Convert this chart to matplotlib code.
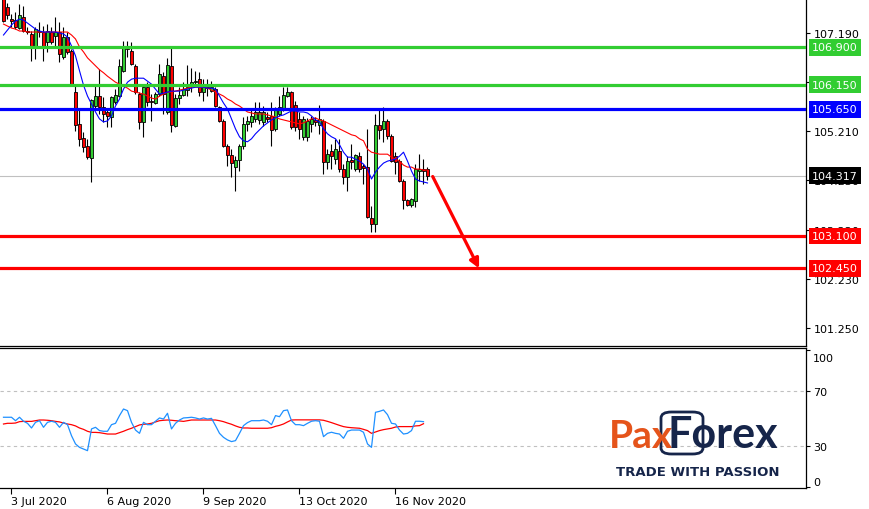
import matplotlib
matplotlib.use('Agg')
import matplotlib.pyplot as plt
from matplotlib.patches import Rectangle, FancyBboxPatch
from matplotlib.transforms import blended_transform_factory, ScaledTranslation

plt.rcParams['font.family'] = ['DejaVu Sans']

# ---------------- data ----------------
opens = [107.88, 107.71, 107.47, 107.45, 107.29, 107.51, 107.23, 107.17, 106.91, 107.21,
         107.21, 107.01, 107.21, 107.13, 107.21, 106.71, 107.11, 106.83, 106.00, 105.36,
         105.08, 104.92, 104.67, 105.72, 105.92, 105.70, 105.60, 105.50, 105.80, 105.92,
         106.43, 106.91, 106.83, 106.53, 105.96, 105.40, 106.10, 105.82, 105.78, 105.96,
         106.32, 105.60, 106.53, 105.32, 105.88, 105.94, 106.04, 106.16, 106.20, 106.26,
         106.00, 106.10, 106.02, 106.06, 105.70, 105.42, 104.92, 104.73, 104.49, 104.63,
         104.92, 105.36, 105.40, 105.46, 105.44, 105.40, 105.50, 105.52, 105.26, 105.56,
         105.66, 105.92, 106.00, 105.74, 105.46, 105.10, 105.10, 105.36, 105.44, 105.34,
         105.42, 104.59, 104.81, 104.65, 104.81, 104.45, 104.29, 104.63, 104.45, 104.71,
         104.51, 104.49, 103.47, 103.34, 105.34, 105.26, 105.42, 105.12, 104.71, 104.61,
         104.21, 103.83, 103.73, 103.81, 104.41, 104.45, 104.45]
highs = [107.98, 107.79, 107.57, 107.61, 107.77, 107.73, 107.31, 107.23, 107.31, 107.41,
         107.33, 107.37, 107.31, 107.51, 107.41, 107.31, 107.21, 106.87, 106.12, 105.66,
         105.20, 105.06, 105.86, 106.12, 106.47, 105.90, 105.66, 105.92, 106.06, 106.67,
         107.03, 107.03, 107.01, 106.57, 106.00, 106.12, 106.20, 105.96, 106.00, 106.57,
         106.41, 106.69, 106.93, 105.96, 106.10, 106.20, 106.55, 106.49, 106.43, 106.41,
         106.26, 106.26, 106.22, 106.10, 105.72, 105.46, 104.96, 104.85, 104.71, 104.96,
         105.50, 105.52, 105.68, 105.80, 105.80, 105.72, 105.60, 105.80, 105.70, 105.92,
         106.10, 106.10, 106.02, 105.82, 105.60, 105.52, 105.48, 105.52, 105.50, 105.74,
         105.46, 104.85, 104.96, 105.06, 105.06, 104.55, 104.71, 104.96, 104.75, 104.79,
         104.55, 105.26, 103.71, 105.56, 105.66, 105.70, 105.46, 105.16, 104.79, 104.65,
         104.25, 103.85, 103.87, 104.55, 104.75, 104.65, 104.49]
lows = [107.41, 107.47, 107.31, 107.27, 107.27, 107.21, 107.17, 106.63, 106.67, 107.11,
        106.63, 106.81, 106.97, 106.93, 106.61, 106.67, 106.77, 106.12, 105.22, 104.92,
        104.79, 104.65, 104.19, 105.66, 105.56, 105.40, 105.30, 105.30, 105.76, 105.90,
        106.41, 106.71, 106.55, 105.96, 105.26, 105.10, 105.72, 105.42, 105.76, 105.92,
        105.56, 105.56, 105.20, 105.30, 105.76, 105.92, 105.92, 106.00, 106.12, 105.92,
        105.82, 105.92, 106.00, 105.70, 105.40, 104.90, 104.51, 104.29, 104.01, 104.41,
        104.85, 105.22, 105.30, 105.40, 105.36, 105.32, 105.40, 104.92, 105.22, 105.52,
        105.62, 105.90, 105.26, 105.22, 105.06, 105.04, 105.02, 105.20, 105.32, 105.16,
        104.35, 104.45, 104.45, 104.55, 104.39, 104.15, 104.01, 104.45, 104.41, 104.39,
        104.15, 103.47, 103.18, 103.18, 105.06, 105.00, 105.06, 104.59, 104.35, 104.19,
        103.65, 103.71, 103.69, 103.69, 104.21, 104.15, 104.23]
closes = [107.43, 107.55, 107.44, 107.31, 107.55, 107.23, 107.21, 106.91, 107.27, 107.23,
          106.91, 107.23, 107.01, 107.21, 106.77, 107.11, 106.81, 106.16, 105.34, 105.06,
          104.90, 104.69, 105.84, 105.92, 105.70, 105.56, 105.52, 105.90, 105.94, 106.53,
          106.91, 106.87, 106.57, 106.00, 105.40, 106.10, 105.80, 105.80, 105.96, 106.36,
          105.96, 106.55, 105.34, 105.88, 105.94, 106.06, 106.10, 106.20, 106.22, 106.00,
          106.10, 106.08, 106.10, 105.72, 105.42, 104.92, 104.73, 104.57, 104.63, 104.92,
          105.36, 105.42, 105.52, 105.60, 105.60, 105.60, 105.46, 105.24, 105.66, 105.70,
          105.94, 106.00, 105.30, 105.30, 105.26, 105.46, 105.42, 105.46, 105.40, 105.46,
          104.59, 104.75, 104.71, 104.85, 104.45, 104.29, 104.61, 104.59, 104.73, 104.45,
          104.47, 103.49, 103.34, 105.34, 105.24, 105.42, 105.12, 104.61, 104.59, 104.21,
          103.83, 103.73, 103.85, 104.45, 104.45, 104.41, 104.32]

ma_fast = [107.15, 107.25, 107.35, 107.43, 107.47, 107.45, 107.39, 107.33, 107.27, 107.23,
           107.21, 107.21, 107.21, 107.21, 107.19, 107.17, 107.11, 106.93, 106.73, 106.43,
           106.14, 105.92, 105.76, 105.60, 105.46, 105.40, 105.42, 105.52, 105.72, 105.86,
           106.06, 106.20, 106.26, 106.28, 106.28, 106.28, 106.22, 106.16, 106.06, 105.96,
           105.98, 106.00, 106.02, 106.02, 106.02, 106.04, 106.06, 106.08, 106.10, 106.10,
           106.10, 106.08, 106.08, 106.06, 105.92, 105.78, 105.66, 105.46, 105.26, 105.10,
           105.02, 105.00, 105.06, 105.16, 105.24, 105.32, 105.38, 105.44, 105.48, 105.52,
           105.54, 105.58, 105.62, 105.62, 105.60, 105.60, 105.58, 105.52, 105.44, 105.40,
           105.26, 105.16, 105.10, 105.06, 104.94, 104.79, 104.69, 104.69, 104.65, 104.61,
           104.55, 104.45, 104.25, 104.39, 104.49, 104.57, 104.61, 104.63, 104.65, 104.71,
           104.79, 104.61, 104.41, 104.25, 104.21, 104.19, 104.17]
ma_slow = [107.37, 107.33, 107.29, 107.27, 107.23, 107.23, 107.21, 107.21, 107.21, 107.21,
           107.21, 107.21, 107.21, 107.21, 107.21, 107.21, 107.21, 107.15, 107.07, 106.91,
           106.81, 106.69, 106.61, 106.53, 106.45, 106.39, 106.32, 106.26, 106.20, 106.16,
           106.12, 106.08, 106.02, 106.00, 105.98, 105.96, 105.92, 105.88, 105.86, 105.92,
           105.96, 106.00, 106.00, 106.02, 106.04, 106.06, 106.08, 106.10, 106.10, 106.10,
           106.10, 106.08, 106.04, 106.00, 105.96, 105.92, 105.86, 105.82, 105.76, 105.72,
           105.66, 105.60, 105.58, 105.56, 105.56, 105.56, 105.54, 105.52, 105.50, 105.46,
           105.44, 105.42, 105.40, 105.38, 105.36, 105.38, 105.42, 105.46, 105.48, 105.44,
           105.42, 105.38, 105.34, 105.30, 105.26, 105.22, 105.18, 105.14, 105.12, 105.06,
           105.02, 104.85, 104.79, 104.77, 104.75, 104.75, 104.75, 104.69, 104.65, 104.61,
           104.53, 104.49, 104.49, 104.45, 104.45, 104.43, 104.43]

osc = [50.9, 50.9, 50.9, 48.4, 50.9, 48.0, 46.5, 43.1, 47.2, 48.4,
       43.6, 47.2, 48.0, 47.2, 43.6, 47.2, 45.5, 37.5, 31.5, 29.0,
       27.8, 26.6, 42.4, 43.6, 41.2, 40.7, 40.7, 45.5, 46.5, 52.1,
       56.9, 55.7, 47.2, 41.6, 39.2, 47.2, 45.5, 45.5, 48.0, 50.4,
       49.6, 53.8, 42.4, 46.5, 48.9, 50.4, 50.6, 50.9, 50.4, 49.6,
       50.4, 49.6, 50.1, 44.8, 39.2, 36.3, 34.4, 33.2, 33.9, 39.2,
       44.8, 47.0, 48.4, 48.4, 48.4, 48.9, 48.0, 45.5, 52.1, 51.3,
       55.7, 56.2, 48.4, 45.5, 45.5, 44.8, 46.5, 48.0, 48.4, 48.0,
       36.8, 39.2, 40.0, 39.2, 38.7, 35.6, 40.7, 41.6, 41.6, 41.6,
       40.0, 31.5, 29.0, 54.5, 55.2, 56.2, 52.8, 46.5, 46.0, 41.6,
       38.7, 39.2, 41.2, 48.0, 48.0, 47.7]
osc_ma = [46.0, 46.5, 46.5, 46.7, 47.7, 47.9, 47.9, 47.9, 48.4, 48.9,
          48.9, 48.7, 48.4, 47.9, 47.5, 46.7, 46.0, 45.5, 44.6, 43.1,
          42.1, 40.7, 39.9, 39.9, 39.7, 39.2, 38.7, 38.7, 38.7, 39.7,
          40.7, 41.9, 42.9, 44.1, 45.3, 45.8, 46.0, 46.5, 47.5, 48.4,
          48.7, 48.9, 48.7, 48.4, 48.2, 47.9, 48.4, 48.9, 48.9, 48.9,
          48.9, 48.9, 48.9, 48.9, 48.4, 47.7, 46.7, 45.8, 44.6, 43.6,
          43.1, 43.1, 42.9, 42.9, 42.9, 42.9, 42.9, 43.3, 44.3, 45.0,
          46.0, 47.5, 48.9, 49.0, 49.0, 49.0, 49.0, 49.0, 49.0, 49.0,
          48.7, 47.9, 47.0, 46.0, 45.0, 44.1, 43.6, 43.3, 43.1, 42.9,
          42.1, 41.2, 39.2, 40.2, 41.2, 41.9, 42.4, 42.9, 43.8, 44.1,
          44.1, 44.1, 44.1, 44.6, 44.8, 46.2]

date_labels = ['3 Jul 2020', '6 Aug 2020', '9 Sep 2020', '13 Oct 2020', '16 Nov 2020']
date_pos = [2, 26, 50, 74, 98]
price_ticks = [107.190, 106.210, 105.210, 104.230, 103.220, 102.230, 101.250]
levels = [106.900, 106.150, 105.650, 103.100, 102.450]
level_colors = ['#32CD32', '#32CD32', '#0000FF', '#FF0000', '#FF0000']
current_price = 104.317
arrow_start = (107.3, 104.30)
arrow_end = (118.9, 102.45)
osc_ticks = [0, 30, 70, 100]
osc_levels = [30, 70]

# ---------------- figure ----------------
W, H = 870, 510
fig = plt.figure(figsize=(W / 100, H / 100), dpi=100)
fig.patch.set_facecolor('white')

def frac(x0, y0, x1, y1):
    return [x0 / W, 1 - y1 / H, (x1 - x0) / W, (y1 - y0) / H]

ax = fig.add_axes(frac(0, 0, 806, 346.7))
ax2 = fig.add_axes(frac(0, 349.3, 806, 489))

xlim = (-0.875, 200.625)
for a in (ax, ax2):
    a.set_xlim(*xlim)
    a.set_facecolor('white')
    a.spines['left'].set_visible(False)
    for s in ('right', 'bottom', 'top'):
        a.spines[s].set_color('black')
        a.spines[s].set_linewidth(0.9)
ax.spines['top'].set_visible(False)

ax.set_ylim(100.893, 107.875)
ax2.set_ylim(-0.55, 101.05)

# current price line
ax.axhline(current_price, color='#C0C0C0', lw=0.8, zorder=1)

# candles
for i, (o, h, l, c) in enumerate(zip(opens, highs, lows, closes)):
    ax.plot([i, i], [l, h], color='black', lw=0.8, zorder=3, solid_capstyle='butt')
    bottom = min(o, c)
    height = max(abs(c - o), 0.012)
    fc = '#32CD32' if c >= o else '#FF0000'
    ax.add_patch(Rectangle((i - 0.38, bottom), 0.76, height, facecolor=fc,
                           edgecolor='black', lw=0.6, zorder=4))

xs = list(range(len(ma_fast)))
ax.plot(xs, ma_slow, color='#FF0000', lw=0.8, zorder=5)
ax.plot(xs, ma_fast, color='#0000FF', lw=0.8, zorder=5)

# horizontal levels
tr = blended_transform_factory(ax.transAxes, ax.transData)
lab_x = 812 / 806
for lv, col in zip(levels, level_colors):
    ax.axhline(lv, color=col, lw=2.3, zorder=6)
    ax.text(lab_x, lv, f'{lv:.3f}', transform=tr, color='white', fontsize=8,
            va='center', ha='left', clip_on=False, zorder=10,
            bbox=dict(boxstyle='square,pad=0.3', fc=col, ec='none'))
ax.text(lab_x, current_price, f'{current_price:.3f}', transform=tr, color='white',
        fontsize=8, va='center', ha='left', clip_on=False, zorder=10,
        bbox=dict(boxstyle='square,pad=0.3', fc='black', ec='none'))

# arrow
ax.annotate('', xy=arrow_end, xytext=arrow_start,
            arrowprops=dict(arrowstyle='-|>', color='#FF0000', lw=2.3,
                            mutation_scale=14, shrinkA=0, shrinkB=0), zorder=7)

ax.yaxis.tick_right()
ax.set_yticks(price_ticks)
ax.set_yticklabels([f'{t:.3f}' for t in price_ticks])
ax.tick_params(axis='y', length=3, width=0.8, pad=2.5, labelsize=8, colors='black')
ax.set_xticks([])

# oscillator panel
xo = list(range(len(osc)))
for lv in osc_levels:
    ax2.axhline(lv, color='#C0C0C0', lw=0.8, ls=(0, (3, 3)), zorder=1)
ax2.plot(xo, osc_ma, color='#FF0000', lw=0.9, zorder=3)
ax2.plot(xo, osc, color='#1E90FF', lw=0.9, zorder=4)
ax2.yaxis.tick_right()
ax2.set_yticks(osc_ticks)
ax2.set_yticklabels([str(t) for t in osc_ticks])
ax2.tick_params(axis='y', length=3, width=0.8, pad=2, labelsize=8, colors='black')
for t, lab in zip(osc_ticks, ax2.get_yticklabels()):
    if t == 100:
        lab.set_va('top')
        lab.set_transform(lab.get_transform() +
                          ScaledTranslation(0, -3 / 100, fig.dpi_scale_trans))
    elif t == 0:
        lab.set_va('bottom')
ax2.set_xticks(date_pos)
ax2.set_xticklabels(date_labels)
ax2.tick_params(axis='x', length=4, width=0.8, pad=2, labelsize=8, colors='black')
for lab in ax2.get_xticklabels():
    lab.set_ha('left')

# logo
navy = '#16254A'
orange = '#E5541B'
fig.text(609 / W, 1 - 448 / H, 'Pax', color=orange, fontsize=28, fontweight='bold',
         family='Lato', ha='left', va='baseline')
fig.text(668 / W, 1 - 448 / H, 'Forex', color=navy, fontsize=31, fontweight='bold',
         family='Lato', ha='left', va='baseline')
fig.add_artist(FancyBboxPatch((661 / W, 1 - 455 / H), 42 / W, 42 / H,
                              boxstyle='round,pad=0,rounding_size=0.012',
                              transform=fig.transFigure, fill=False,
                              ec=navy, lw=2.0))
fig.text(698 / W, 1 - 472 / H, 'TRADE WITH PASSION', color=navy, fontsize=9.5,
         fontweight='bold', family='DejaVu Sans', ha='center', va='center')

fig.savefig('out.png', dpi=100, facecolor='white')
